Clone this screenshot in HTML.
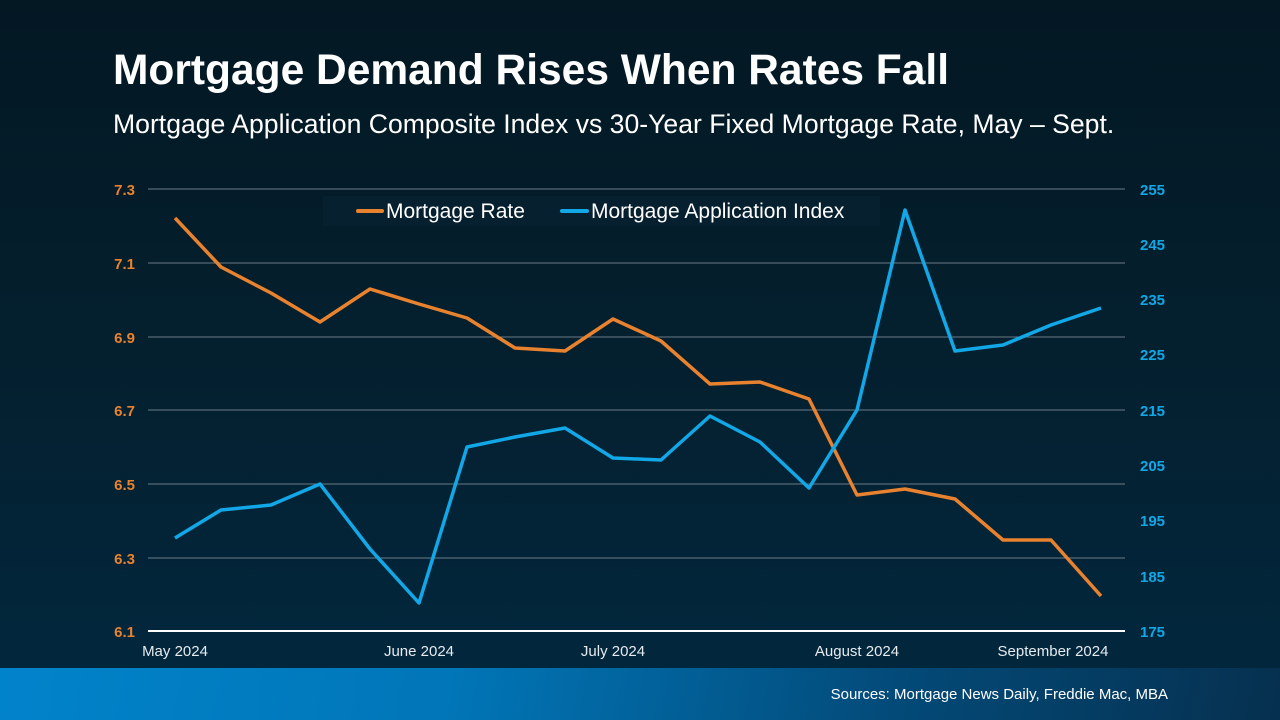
<!DOCTYPE html>
<html><head><meta charset="utf-8"><style>
html,body{margin:0;padding:0}
body{width:1280px;height:720px;overflow:hidden;background:linear-gradient(180deg,#031823 0%,#04202f 50%,#02283f 100%);font-family:"Liberation Sans",sans-serif;position:relative}
.footer{position:absolute;left:0;top:668px;width:1280px;height:52px;background:linear-gradient(100deg,#0183cb 0%,#0176b8 35%,#034a78 70%,#06304f 100%)}
</style></head><body>
<div style="position:absolute;left:113px;top:47px;color:#fff;font-weight:bold;font-size:42.5px">Mortgage Demand Rises When Rates Fall</div>
<div style="position:absolute;left:113px;top:109px;color:#fff;font-size:26.6px">Mortgage Application Composite Index vs 30-Year Fixed Mortgage Rate, May – Sept.</div>
<div class="footer"></div>
<svg width="1280" height="720" style="position:absolute;left:0;top:0" font-family="Liberation Sans, sans-serif">
<g stroke="#6b7b86" stroke-width="1">
<line x1="148" x2="1125" y1="189" y2="189"/><line x1="148" x2="1125" y1="263" y2="263"/><line x1="148" x2="1125" y1="337" y2="337"/><line x1="148" x2="1125" y1="410" y2="410"/><line x1="148" x2="1125" y1="484" y2="484"/><line x1="148" x2="1125" y1="558" y2="558"/>
</g>
<line x1="148" x2="1125" y1="631" y2="631" stroke="#fff" stroke-width="2"/>
<g fill="#e8822f" font-size="15" font-weight="bold" text-anchor="end">
<text x="135" y="195">7.3</text><text x="135" y="269">7.1</text><text x="135" y="343">6.9</text><text x="135" y="416">6.7</text><text x="135" y="490">6.5</text><text x="135" y="564">6.3</text><text x="135" y="637">6.1</text>
</g>
<g fill="#12a7e6" font-size="15" font-weight="bold">
<text x="1140" y="195">255</text><text x="1140" y="250">245</text><text x="1140" y="305">235</text><text x="1140" y="360">225</text><text x="1140" y="416">215</text><text x="1140" y="471">205</text><text x="1140" y="526">195</text><text x="1140" y="582">185</text><text x="1140" y="637">175</text>
</g>
<g fill="#e6ebef" font-size="15" text-anchor="middle">
<text x="175" y="656">May 2024</text><text x="419" y="656">June 2024</text><text x="613" y="656">July 2024</text><text x="857" y="656">August 2024</text><text x="1053" y="656">September 2024</text>
</g>
<rect x="323" y="196" width="557" height="30" fill="#06202f"/>
<line x1="358" x2="382" y1="211" y2="211" stroke="#e8822f" stroke-width="4" stroke-linecap="round"/>
<text x="386" y="218" fill="#fff" font-size="21">Mortgage Rate</text>
<line x1="562" x2="587" y1="211" y2="211" stroke="#12a7e6" stroke-width="4" stroke-linecap="round"/>
<text x="591" y="218" fill="#fff" font-size="21">Mortgage Application Index</text>
<polyline fill="none" stroke="#e8822f" stroke-width="3.5" stroke-linejoin="round" points="175,218 221,267 271,293 320,322 370,289 419,304 467,318 515,348 565,351 613,319 661,341 710,384 760,382 809,399 857,495 905,489 955,499 1003,540 1051,540 1101,596"/>
<polyline fill="none" stroke="#12a7e6" stroke-width="3.5" stroke-linejoin="round" points="175,538 221,510 271,505 320,484 370,549 419,603 467,447 515,437 565,428 613,458 661,460 710,416 760,442 809,488 857,410 905,210 955,351 1003,345 1051,325 1101,308"/>
<text x="1168" y="699" fill="#fff" font-size="15" text-anchor="end">Sources: Mortgage News Daily, Freddie Mac, MBA</text>
</svg>
</body></html>
